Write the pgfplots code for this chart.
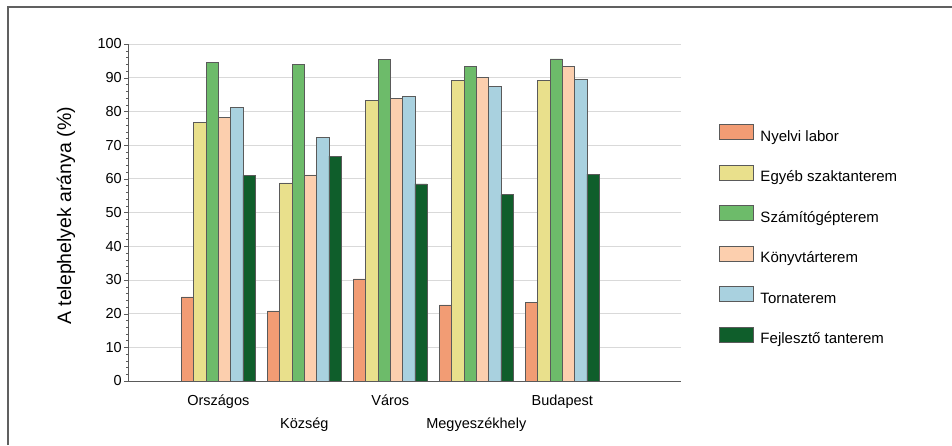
\documentclass[border=0pt]{standalone}
\usepackage{pgfplots}
\pgfplotsset{compat=1.18}
\usepackage{pgfplotstable}
\usepackage{fontspec}
\setmainfont{Liberation Sans}
\definecolor{cNy}{HTML}{F29C74}
\definecolor{cEg}{HTML}{E9E08C}
\definecolor{cSz}{HTML}{6DBB6A}
\definecolor{cKo}{HTML}{FCCFAE}
\definecolor{cTo}{HTML}{A9D1DF}
\definecolor{cFe}{HTML}{0F5E2B}
\definecolor{edge}{HTML}{5A5A5A}
\pgfplotstableread{
x nyelvi egyeb szam konyv torna fejl
0 25.0 76.7 94.6 78.3 81.3 61.0
1 20.8 58.8 93.9 61.2 72.3 66.7
2 30.3 83.3 95.5 83.8 84.4 58.5
3 22.6 89.2 93.4 90.2 87.4 55.3
4 23.4 89.2 95.6 93.3 89.6 61.4
}\data
\pgfplotsset{mylegend/.style={legend image code/.code={\draw[##1,/tikz/.cd] (0pt,-2.5pt) rectangle (34pt,12.5pt);}}}
\begin{document}
\begin{tikzpicture}
\useasboundingbox (0,0) rectangle (952pt,445pt);
\draw[color=gray!75!black, line width=1.3pt] (8pt,0) -- (8pt,438pt) -- (952pt,438pt);
\begin{axis}[
  at={(128pt,64pt)}, anchor=south west,
  scale only axis, width=553pt, height=337pt,
  ybar=0pt, bar width=12.3pt,
  xmin=-1.05, xmax=5.38, ymin=0, ymax=100,
  axis x line=bottom, axis y line=left,
  axis line style={-, color=edge, line width=0.8pt},
  xtick=data,
  xticklabels={{\strut Országos},{\strut\\Község},{\strut Város},{\strut\\Megyeszékhely},{\strut Budapest}},
  xticklabel style={align=center, inner sep=0pt, yshift=-5pt, font=\fontsize{14.5}{22.5}\selectfont},
  major x tick style={draw=none},
  ytick={0,10,...,100},
  minor y tick num=4,
  y tick style={color=edge},
  tick align=outside,
  major tick length=4pt, minor tick length=2pt,
  yticklabel style={font=\fontsize{14.5}{17}\selectfont, inner sep=0pt, xshift=-2pt},
  /pgf/number format/assume math mode=true,
  ymajorgrids, major grid style={color=gray!30, line width=0.8pt},
  ylabel={A telephelyek aránya (\%)},
  every axis y label/.style={at={(axis description cs:-0.112,0.49)}, rotate=90, anchor=center, font=\fontsize{19.5}{22}\selectfont},
  legend style={at={(axis description cs:1.0687,0.7626)}, anchor=north west, draw=none, fill=none, inner sep=0pt, outer sep=0pt, column sep=7pt, row sep=19.5pt, font=\fontsize{15}{18}\selectfont, nodes={inner sep=0pt, text height=12.5pt, text depth=4pt}},
  legend cell align=left,
]
\addplot[fill=cNy, draw=edge, line width=0.5pt, mylegend] table[x=x,y=nyelvi]{\data};
\addplot[fill=cEg, draw=edge, line width=0.5pt, mylegend] table[x=x,y=egyeb]{\data};
\addplot[fill=cSz, draw=edge, line width=0.5pt, mylegend] table[x=x,y=szam]{\data};
\addplot[fill=cKo, draw=edge, line width=0.5pt, mylegend] table[x=x,y=konyv]{\data};
\addplot[fill=cTo, draw=edge, line width=0.5pt, mylegend] table[x=x,y=torna]{\data};
\addplot[fill=cFe, draw=edge, line width=0.5pt, mylegend] table[x=x,y=fejl]{\data};
\legend{Nyelvi labor, Egyéb szaktanterem, Számítógépterem, Könyvtárterem, Tornaterem, Fejlesztő tanterem}
\end{axis}
\end{tikzpicture}
\end{document}
